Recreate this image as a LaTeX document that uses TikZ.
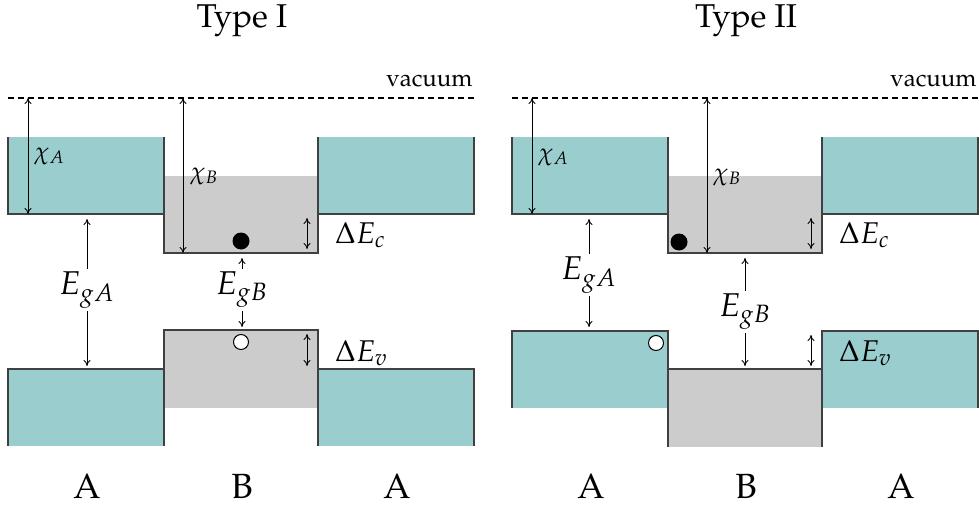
\documentclass[tikz,border=0pt]{standalone}
\usepackage{amsmath}
\usepackage[T1]{fontenc}
\usepackage{mathpazo}
\renewcommand{\rmdefault}{ppl}
\usetikzlibrary{arrows.meta}

\definecolor{bandA}{RGB}{154,205,205}
\definecolor{bandB}{RGB}{204,204,204}

\begin{document}
\begin{tikzpicture}[x=0.5pt,y=-0.5pt,
  bandedge/.style={draw=black!75,line width=0.7pt},
  vacline/.style={dash pattern=on 3pt off 2pt,line width=0.9pt},
  gaparrow/.style={{To[length=3pt,width=3.5pt]}-{To[length=3pt,width=3.5pt]},line width=0.45pt},
  onearrow/.style={-{To[length=3pt,width=3.5pt]},line width=0.45pt},
  electron/.style={circle,fill=black,inner sep=0pt,minimum size=8.5pt},
  hole/.style={circle,draw=black,fill=white,line width=0.5pt,inner sep=0pt,minimum size=7.5pt},
  titletext/.style={font=\fontsize{16.5}{20}\selectfont},
  mattext/.style={font=\fontsize{17.5}{21}\selectfont},
  gaptext/.style={font=\fontsize{16.5}{20}\selectfont,inner sep=1.5pt},
  offtext/.style={font=\fontsize{15}{18}\selectfont},
  chitext/.style={font=\fontsize{12}{14}\selectfont,inner sep=0pt},
  vactext/.style={font=\fontsize{12}{14}\selectfont,inner sep=0pt}]

\useasboundingbox (0,0) rectangle (979,508);

% Parts that both panels share
\foreach \dx/\name in {0/I,504/II}
{
  % Vacuum level
  \coordinate (vacL\name) at (\dx+8,98);
  \coordinate (vacR\name) at (\dx+474,98);
  \draw[vacline] (vacL\name) -- (vacR\name);
  \node[vactext,anchor=base east] (vac\name) at (\dx+473,87) {vacuum};

  % Conduction bands
  \fill[bandA] (\dx+8,137) rectangle (\dx+164,214);
  \fill[bandB] (\dx+164,176) rectangle (\dx+318,253);
  \fill[bandA] (\dx+318,137) rectangle (\dx+474,214);
  \draw[bandedge] (\dx+8,137) -- (\dx+8,214) -- (\dx+164,214) -- (\dx+164,137);
  \draw[bandedge] (\dx+164,176) -- (\dx+164,253) -- (\dx+318,253) -- (\dx+318,176);
  \draw[bandedge] (\dx+318,137) -- (\dx+318,214) -- (\dx+474,214) -- (\dx+474,137);

  % Materials
  \node[mattext,anchor=base] (matA\name) at (\dx+87,498) {A};
  \node[mattext,anchor=base] (matB\name) at (\dx+242,498) {B};
  \node[mattext,anchor=base] (matC\name) at (\dx+397,498) {A};
}

% Titles
\node[titletext,anchor=base] (titleI) at (242,28) {Type I};
\node[titletext,anchor=base] (titleII) at (746,28) {Type II};

% ---------- Type I ----------

% Valence bands
\fill[bandA] (8,369) rectangle (164,446);
\fill[bandB] (164,330) rectangle (318,408);
\fill[bandA] (318,369) rectangle (474,446);
\draw[bandedge] (8,446) -- (8,369) -- (164,369) -- (164,446);
\draw[bandedge] (164,408) -- (164,330) -- (318,330) -- (318,408);
\draw[bandedge] (318,446) -- (318,369) -- (474,369) -- (474,446);

% Electron affinities
\coordinate (chiAtopI) at (28,98);
\coordinate (chiAbotI) at (28,214);
\draw[gaparrow] (chiAtopI) -- (chiAbotI);
\node[chitext,anchor=west] (chiAI) at (34,156) {$\chi_A$};
\coordinate (chiBtopI) at (183,98);
\coordinate (chiBbotI) at (183,253);
\draw[gaparrow] (chiBtopI) -- (chiBbotI);
\node[chitext,anchor=west] (chiBI) at (190,176) {$\chi_B$};

% Band gaps
\node[gaptext] (EgAI) at (87,290) {$E_{gA}$};
\coordinate (EgAtopI) at (87,219);
\coordinate (EgAbotI) at (87,366);
\draw[onearrow] (EgAI) -- (EgAtopI);
\draw[onearrow] (EgAI) -- (EgAbotI);
\node[gaptext] (EgBI) at (242,290) {$E_{gB}$};
\coordinate (EgBtopI) at (242,258);
\coordinate (EgBbotI) at (242,327);
\draw[onearrow] (EgBI) -- (EgBtopI);
\draw[onearrow] (EgBI) -- (EgBbotI);

% Band offsets
\coordinate (dEctopI) at (307,218);
\coordinate (dEcbotI) at (307,249);
\draw[gaparrow] (dEctopI) -- (dEcbotI);
\node[offtext,anchor=base west] (dEcI) at (328,243) {$\Delta E_c$};
\coordinate (dEvtopI) at (307,334);
\coordinate (dEvbotI) at (307,366);
\draw[gaparrow] (dEvtopI) -- (dEvbotI);
\node[offtext,anchor=base west] (dEvI) at (328,361) {$\Delta E_v$};

% Carriers
\node[electron] (elecI) at (241,241) {};
\node[hole] (holeI) at (241,342) {};

% ---------- Type II ----------

% Valence bands
\fill[bandA] (512,331) rectangle (668,408);
\fill[bandB] (668,369) rectangle (822,447);
\fill[bandA] (822,331) rectangle (978,408);
\draw[bandedge] (512,408) -- (512,331) -- (668,331) -- (668,408);
\draw[bandedge] (668,447) -- (668,369) -- (822,369) -- (822,447);
\draw[bandedge] (822,408) -- (822,331) -- (978,331) -- (978,408);

% Electron affinities
\coordinate (chiAtopII) at (532,98);
\coordinate (chiAbotII) at (532,214);
\draw[gaparrow] (chiAtopII) -- (chiAbotII);
\node[chitext,anchor=west] (chiAII) at (538,157) {$\chi_A$};
\coordinate (chiBtopII) at (707,98);
\coordinate (chiBbotII) at (707,253);
\draw[gaparrow] (chiBtopII) -- (chiBbotII);
\node[chitext,anchor=west] (chiBII) at (713,177) {$\chi_B$};

% Band gaps
\node[gaptext] (EgAII) at (589,275) {$E_{gA}$};
\coordinate (EgAtopII) at (589,219);
\coordinate (EgAbotII) at (589,327);
\draw[onearrow] (EgAII) -- (EgAtopII);
\draw[onearrow] (EgAII) -- (EgAbotII);
\node[gaptext] (EgBII) at (745,312) {$E_{gB}$};
\coordinate (EgBtopII) at (745,258);
\coordinate (EgBbotII) at (745,366);
\draw[onearrow] (EgBII) -- (EgBtopII);
\draw[onearrow] (EgBII) -- (EgBbotII);

% Band offsets
\coordinate (dEctopII) at (811,218);
\coordinate (dEcbotII) at (811,249);
\draw[gaparrow] (dEctopII) -- (dEcbotII);
\node[offtext,anchor=base west] (dEcII) at (832,243) {$\Delta E_c$};
\coordinate (dEvtopII) at (811,335);
\coordinate (dEvbotII) at (811,366);
\draw[gaparrow] (dEvtopII) -- (dEvbotII);
\node[offtext,anchor=base west] (dEvII) at (832,361) {$\Delta E_v$};

% Carriers
\node[electron] (elecII) at (679,242) {};
\node[hole] (holeII) at (656,343) {};

\end{tikzpicture}
\end{document}
